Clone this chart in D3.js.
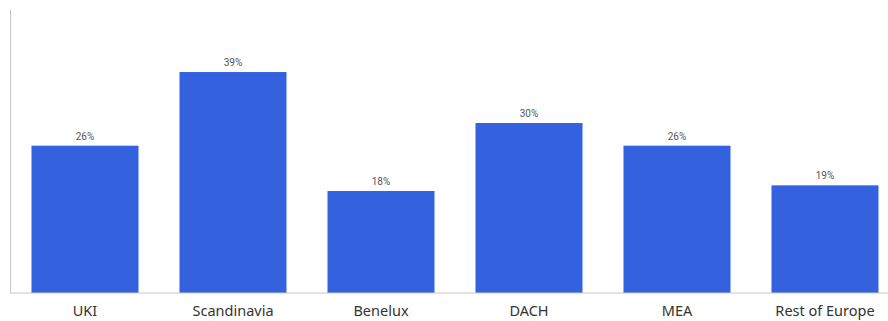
<!DOCTYPE html>
<html><head><meta charset="utf-8">
<script src="https://cdn.jsdelivr.net/npm/d3@7"></script>
<style>body{margin:0;background:#fff}svg{display:block}</style>
</head><body>
<script>
const categories = ["UKI","Scandinavia","Benelux","DACH","MEA","Rest of Europe"];
const values = [26,39,18,30,26,19];
const labels = ["26%","39%","18%","30%","26%","19%"];

const W = 888, H = 321;
const svg = d3.select("body").append("svg").attr("width", W).attr("height", H);
const x = d3.scaleBand().domain(categories).range([11, 899]).paddingInner(0.277).paddingOuter(0.1385);
const y = d3.scaleLinear().domain([0, 50]).range([293, 9.7]);

svg.selectAll("rect.bar").data(categories).join("rect")
  .attr("class","bar")
  .attr("x", d => x(d)).attr("width", x.bandwidth())
  .attr("y", (d,i) => y(values[i])).attr("height", (d,i) => y(0) - y(values[i]))
  .attr("fill", "#3462de");

svg.selectAll("text.val").data(categories).join("text")
  .attr("class","val")
  .attr("x", d => x(d) + x.bandwidth()/2)
  .attr("y", (d,i) => y(values[i]) - 6)
  .attr("text-anchor","middle")
  .attr("font-family","Roboto, sans-serif").attr("font-size", 10)
  .attr("fill","#555")
  .text((d,i) => labels[i]);

const xa = svg.append("g").attr("transform", `translate(0,${y(0)})`)
  .call(d3.axisBottom(x).tickSize(0).tickPadding(13));
xa.select(".domain").attr("stroke","#c8c8c8").attr("d", `M10,0H${W}`);
xa.selectAll("text").attr("font-family","'Noto Sans', sans-serif").attr("font-size", 14.5).attr("fill","#333");

svg.append("line").attr("x1",10.5).attr("x2",10.5).attr("y1",y(50)).attr("y2",y(0))
  .attr("stroke","#c8c8c8");
</script>
</body></html>
